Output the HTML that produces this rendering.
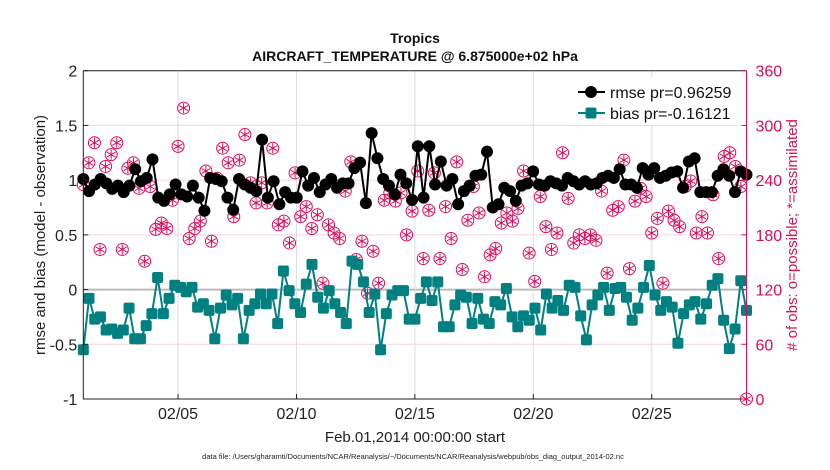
<!DOCTYPE html>
<html><head><meta charset="utf-8"><style>
body{margin:0;background:#fff;}
svg{display:block;font-family:"Liberation Sans",Arial,sans-serif;}
</style></head><body>
<svg id="chart" width="830" height="470" viewBox="0 0 830 470" xmlns="http://www.w3.org/2000/svg">
<rect x="0" y="0" width="830" height="470" fill="#fff"/>
<text x="415" y="43" text-anchor="middle" font-size="14" font-weight="bold" fill="#111">Tropics</text>
<text x="415" y="61" text-anchor="middle" font-size="14" font-weight="bold" fill="#111">AIRCRAFT_TEMPERATURE @ 6.875000e+02 hPa</text>
<g id="grid"></g>
<g id="marks"></g>
<g id="axes"></g>
<text x="415" y="442" text-anchor="middle" font-size="15" fill="#222">Feb.01,2014 00:00:00 start</text>
<text x="413" y="459" text-anchor="middle" font-size="7.5" fill="#222">data file: /Users/gharamti/Documents/NCAR/Reanalysis/~/Documents/NCAR/Reanalysis/webpub/obs_diag_output_2014-02.nc</text>
<text transform="translate(45,235) rotate(-90)" text-anchor="middle" font-size="15" fill="#222">rmse and bias (model - observation)</text>
<text transform="translate(797,235) rotate(-90)" text-anchor="middle" font-size="15" fill="#d4145a"># of obs: o=possible; *=assimilated</text>
<g id="legend">
<rect x="572" y="77" width="172" height="48" fill="#fff"/>
<line x1="578" y1="92" x2="605" y2="92" stroke="#000" stroke-width="2"/>
<circle cx="591" cy="92" r="6" fill="#000"/>
<text x="610" y="98" font-size="16" fill="#111">rmse pr=0.96259</text>
<line x1="578" y1="113" x2="605" y2="113" stroke="#008080" stroke-width="2"/>
<rect x="585.5" y="107.5" width="11" height="11" rx="2" fill="#008080"/>
<text x="610" y="119" font-size="16" fill="#111">bias pr=-0.16121</text>
</g>
</svg>
<script>
const rmseValues=[1.01,0.90,0.96,
1.01,.97,.92,.95,.89,.95,1.10,.99,1.02,1.19,.84,.81,.87,.96,.87,.85,.95,.84,.72,1.02,1.01,.99,.84,.73,1.01,.96,.93,.90,
1.37,.84,.99,.78,.89,.84,.84,1.08,.95,1.02,.89,.96,1.01,.93,.97,.97,1.11,1.16,.79,1.43,1.20,1.01,.95,.87,1.05,.97,.82,1.31,
.84,1.31,.96,1.17,.95,1.01,.78,.90,.95,1.04,1.05,1.26,.75,.78,.93,.90,.81,.95,.97,1.08,.96,.95,.99,.97,.95,1.02,.99,.96,
.99,.96,.97,1.02,1.04,1.02,1.10,.96,.96,.93,1.11,1.05,1.11,1.02,1.04,1.07,1.08,.93,1.17,1.20,.89,.89,.89,1.04,1.10,1.04,.89,1.08,1.05];
const biasValues=[-0.55,-0.08,-0.27,
-.25,-.37,-.36,-.40,-.37,-.17,-.45,-.45,-.33,-.22,.11,-.22,-.08,.04,.02,-.02,.02,-.16,-.13,-.19,-.45,-.17,-.05,-.14,-.08,-.45,-.19,-.13,-.04,
-.13,-.04,-.31,.17,-.01,-.13,-.21,.05,.23,-.07,-.17,-.01,-.13,-.21,-.31,.26,.23,.07,-.21,-.04,-.55,-.22,-.05,-.01,-.01,-.27,-.27,-.08,.07,
-.10,.07,-.34,-.34,-.14,-.05,-.07,-.31,-.08,-.27,-.31,-.11,-.14,.01,-.25,-.34,-.24,-.28,-.17,-.37,-.04,-.17,-.10,-.19,.04,.02,-.24,-.46,-.14,
-.05,.02,-.19,.01,.02,-.07,-.28,-.17,.02,.22,-.05,-.19,-.11,-.16,-.49,-.22,-.14,-.11,-.27,-.13,.04,.10,-.28,-.54,-.36,.08,-.19];
const obsCounts=[235,259,
281,164,255,268,281,164,253,259,231,151,233,186,193,187,218,277,319,176,187,195,250,173,242,275,259,200,262,290,237,215,
237,215,275,191,195,171,248,200,211,187,202,127,191,182,176,228,260,153,173,116,162,127,218,226,217,226,180,206,250,154,
207,248,154,211,176,260,142,196,233,204,134,158,165,193,204,195,209,250,160,129,222,189,164,182,270,220,171,180,176,
180,174,228,138,207,211,262,143,217,231,222,182,198,127,206,196,189,233,239,182,200,182,224,154,266,270,255,233,0];
const leftTicks=[2,1.5,1,0.5,0,-0.5,-1];
const leftTickLabels=["2","1.5","1","0.5","0","-0.5","-1"];
const rightTicks=[0,60,120,180,240,300,360];
const dateTicks=[5,10,15,20,25];
const dateTickLabels=["02/05","02/10","02/15","02/20","02/25"];

const X0=83.3,X1=746.5,Y0=70.7,Y1=399;
const dayStart=1,dayEnd=29;
const xDay=d=>X0+(d-dayStart)/(dayEnd-dayStart)*(X1-X0);
const xIdx=(i,n)=>X0+i/(n-1)*(X1-X0);
const yL=v=>Y1-(v+1)/3*(Y1-Y0);
const yR=v=>Y1-v/360*(Y1-Y0);
const NS="http://www.w3.org/2000/svg";
function mk(tag,attrs,parent){const e=document.createElementNS(NS,tag);for(const k in attrs)e.setAttribute(k,attrs[k]);parent.appendChild(e);return e;}
const grid=document.getElementById('grid'),marks=document.getElementById('marks'),axes=document.getElementById('axes');

rightTicks.forEach(t=>{if(t===0||t===360)return;
const l=mk('line',{x1:X0,x2:X1,y1:yR(t),y2:yR(t),stroke:t===120?'#bbb':'#f6d3df','stroke-width':t===120?2:1},grid);

});
dateTicks.forEach(d=>{const l=mk('line',{x1:xDay(d),x2:xDay(d),y1:Y0,y2:Y1,stroke:'#ddd','stroke-width':1},grid);

});

const nO=obsCounts.length;
obsCounts.forEach((c,i)=>{const cx=xIdx(i,nO),cy=yR(c);
const g=mk('g',{},marks);


mk('circle',{cx:cx,cy:cy,r:6,fill:'none',stroke:'#dc0a5a','stroke-width':1},g);
let d='';for(let k=0;k<3;k++){const a=Math.PI/2+k*Math.PI/3;const dx=5*Math.cos(a),dy=5*Math.sin(a);d+=`M${cx-dx},${cy-dy}L${cx+dx},${cy+dy}`;}
mk('path',{d:d,stroke:'#dc0a5a','stroke-width':1},g);});

const nB=biasValues.length;
const bl=mk('polyline',{points:biasValues.map((v,i)=>xIdx(i,nB)+','+yL(v)).join(' '),fill:'none',stroke:'#008080','stroke-width':2},marks);


biasValues.forEach((v,i)=>{const r=mk('rect',{x:xIdx(i,nB)-5.5,y:yL(v)-5.5,width:11,height:11,rx:2,fill:'#008080'},marks);

});

const nR=rmseValues.length;
const rl=mk('polyline',{points:rmseValues.map((v,i)=>xIdx(i,nR)+','+yL(v)).join(' '),fill:'none',stroke:'#000','stroke-width':2},marks);


rmseValues.forEach((v,i)=>{const c=mk('circle',{cx:xIdx(i,nR),cy:yL(v),r:6,fill:'#000'},marks);

});

const fr=mk('path',{d:`M${X0},${Y0}H${X1}M${X0},${Y0}V${Y1}H${X1}`,fill:'none',stroke:'#2a1a20','stroke-width':1},axes);


const ra=mk('line',{x1:X1,x2:X1,y1:Y0,y2:Y1,stroke:'#dc0a5a','stroke-width':1},axes);


leftTicks.forEach((t,i)=>{mk('line',{x1:X0,x2:X0+5,y1:yL(t),y2:yL(t),stroke:'#222'},axes);
const tx=mk('text',{x:X0-6,y:yL(t)+6,'text-anchor':'end','font-size':16,fill:'#222'},axes);tx.textContent=leftTickLabels[i];

});
rightTicks.forEach(t=>{mk('line',{x1:X1-5,x2:X1,y1:yR(t),y2:yR(t),stroke:'#dc0a5a'},axes);
const tx=mk('text',{x:X1+9,y:yR(t)+6,'font-size':16,fill:'#dc0a5a'},axes);tx.textContent=t;

});
dateTicks.forEach((d,i)=>{mk('line',{x1:xDay(d),x2:xDay(d),y1:Y1,y2:Y1-5,stroke:'#222'},axes);
const tx=mk('text',{x:xDay(d),y:Y1+20,'text-anchor':'middle','font-size':16,fill:'#222'},axes);tx.textContent=dateTickLabels[i];

});
</script>
</body></html>
